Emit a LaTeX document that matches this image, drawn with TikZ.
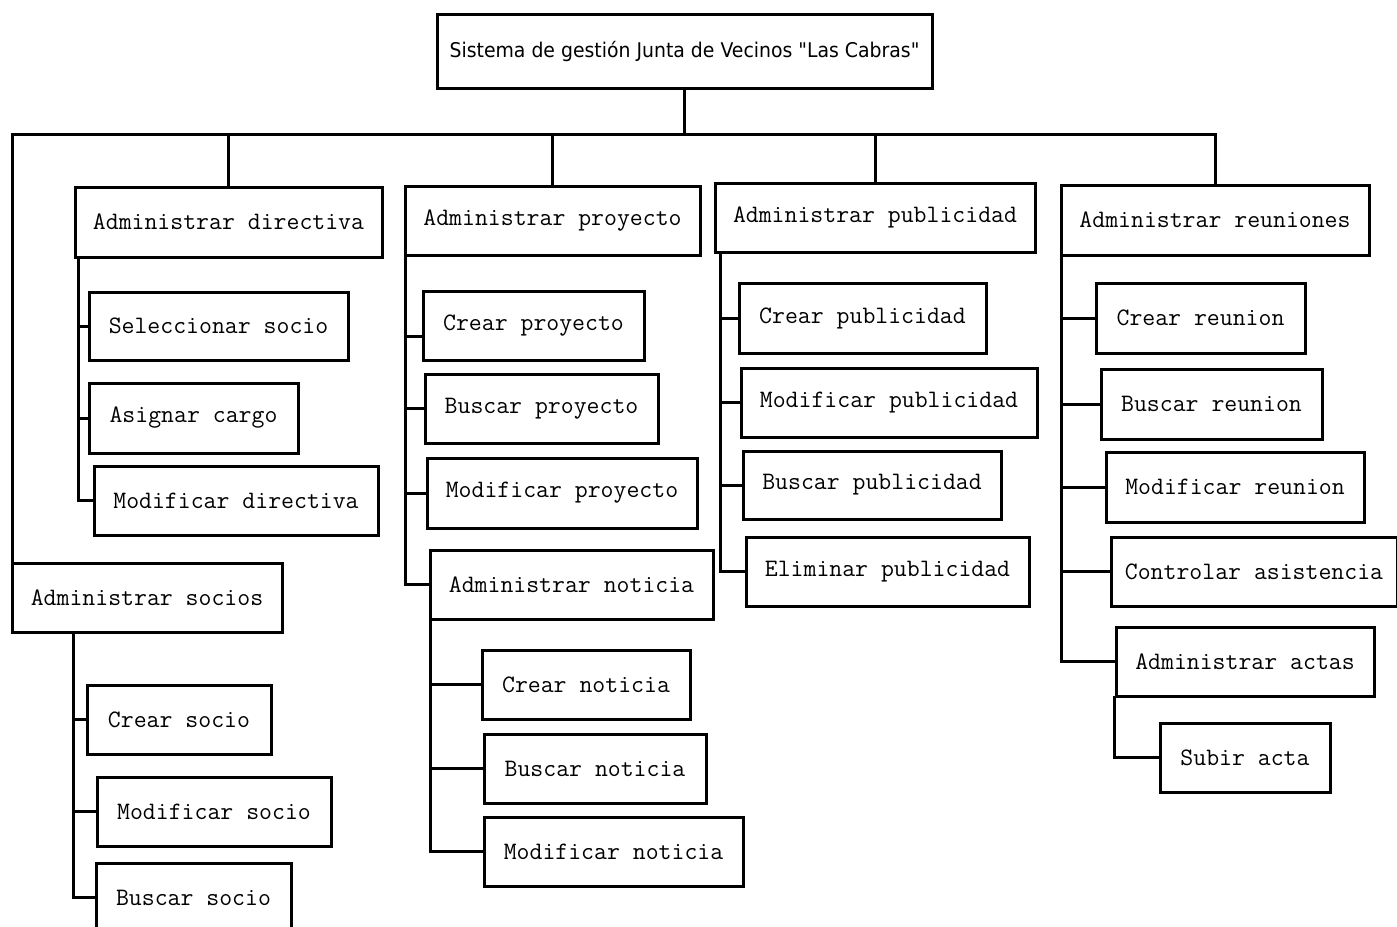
\documentclass[tikz,border=0pt]{standalone}
\usepackage{fontspec}
\usepackage{graphicx}
\newfontfamily\titlefont{DejaVu Sans}
% \tbox{name}{left}{top}{right}{bottom}{text}: a framed box given by its corners
\newcommand{\tbox}[6]{%
  \node[box, minimum width={(#4-#2)*0.75pt}, minimum height={(#5-#3)*0.75pt}]
    (#1) at ({(#2+#4)/2},{(#3+#5)/2}) {#6};}
\begin{document}
\begin{tikzpicture}[x=0.75pt,y=-0.75pt,
  box/.style={draw, line width=2.25pt, inner sep=0pt, outer sep=0pt,
    font=\ttfamily\fontsize{18.8}{20}\selectfont},
  link/.style={line width=2.25pt},
]
\fill[white] (0,0) rectangle (1397,926);
\useasboundingbox (0,0) rectangle (1397,926);

% root
\tbox{root}{437}{14}{932}{88}{\titlefont\fontsize{15.2}{17}\selectfont\scalebox{0.93}[1]{Sistema de gestión Junta de Vecinos "Las Cabras"}}

% first level
\tbox{dir}{75}{187}{382}{257}{Administrar directiva}
\tbox{pro}{405}{186}{700}{255}{Administrar proyecto}
\tbox{pub}{715}{183}{1035}{252}{Administrar publicidad}
\tbox{reu}{1061}{185}{1369}{255}{Administrar reuniones}
\tbox{soc}{12}{563}{282}{632}{Administrar socios}

% directiva
\tbox{ss}{89}{292}{348}{360}{Seleccionar socio}
\tbox{ac}{89}{383}{298}{453}{Asignar cargo}
\tbox{md}{94}{466}{378}{535}{Modificar directiva}

% socios
\tbox{cs}{87}{685}{271}{754}{Crear socio}
\tbox{ms}{97}{777}{331}{846}{Modificar socio}
\tbox{bs}{96}{863}{291}{932}{Buscar socio}

% proyecto
\tbox{cp}{423}{291}{644}{360}{Crear proyecto}
\tbox{bp}{425}{374}{658}{443}{Buscar proyecto}
\tbox{mp}{427}{458}{697}{528}{Modificar proyecto}
\tbox{an}{430}{550}{713}{619}{Administrar noticia}

% noticia
\tbox{cn}{482}{650}{690}{719}{Crear noticia}
\tbox{bn}{484}{734}{706}{803}{Buscar noticia}
\tbox{mn}{484}{817}{743}{886}{Modificar noticia}

% publicidad
\tbox{cpu}{739}{283}{986}{353}{Crear publicidad}
\tbox{mpu}{741}{368}{1037}{437}{Modificar publicidad}
\tbox{bpu}{743}{451}{1001}{519}{Buscar publicidad}
\tbox{epu}{746}{537}{1029}{606}{Eliminar publicidad}

% reuniones
\tbox{cr}{1096}{283}{1305}{353}{Crear reunion}
\tbox{br}{1101}{369}{1322}{439}{Buscar reunion}
\tbox{mr}{1106}{452}{1364}{522}{Modificar reunion}
\tbox{ca}{1111}{537}{1397}{606}{Controlar asistencia}
\tbox{aa}{1116}{627}{1374}{696}{Administrar actas}
\tbox{sa}{1160}{723}{1330}{792}{Subir acta}

% main bus
\coordinate (bus) at ([yshift=-34.5pt]root.south);
\draw[link] (root.south) -- (bus);
\draw[link] (soc.north west) |- (bus) -| (reu.north);
\draw[link] (dir.north) -- (dir.north |- bus);
\draw[link] (pro.north) -- (pro.north |- bus);
\draw[link] (pub.north) -- (pub.north |- bus);

% directiva branch
\coordinate (dsp) at ([xshift=2.25pt]dir.south west);
\draw[link] (dsp) |- (md.west);
\draw[link] (ss.west) -- (ss.west -| dsp);
\draw[link] (ac.west) -- (ac.west -| dsp);

% socios branch
\coordinate (ssp) at ([xshift=45.75pt]soc.south west);
\draw[link] (ssp) |- (bs.west);
\draw[link] (cs.west) -- (cs.west -| ssp);
\draw[link] (ms.west) -- (ms.west -| ssp);

% proyecto branch
\coordinate (psp) at (pro.south west);
\draw[link] (psp) |- (an.west);
\draw[link] ([yshift=-8.6pt]cp.west) -- ([yshift=-8.6pt]cp.west -| psp);
\draw[link] (bp.west) -- (bp.west -| psp);
\draw[link] (mp.west) -- (mp.west -| psp);

% noticia branch
\coordinate (nsp) at (an.south west);
\draw[link] (nsp) |- (mn.west);
\draw[link] (cn.west) -- (cn.west -| nsp);
\draw[link] (bn.west) -- (bn.west -| nsp);

% publicidad branch
\coordinate (usp) at ([xshift=3.75pt]pub.south west);
\draw[link] (usp) |- (epu.west);
\draw[link] (cpu.west) -- (cpu.west -| usp);
\draw[link] (mpu.west) -- (mpu.west -| usp);
\draw[link] (bpu.west) -- (bpu.west -| usp);

% reuniones branch
\coordinate (rsp) at (reu.south west);
\draw[link] (rsp) |- (aa.west);
\draw[link] (cr.west) -- (cr.west -| rsp);
\draw[link] (br.west) -- (br.west -| rsp);
\draw[link] (mr.west) -- (mr.west -| rsp);
\draw[link] (ca.west) -- (ca.west -| rsp);

% actas branch
\coordinate (asp) at ([xshift=-1.5pt]aa.south west);
\draw[link] (asp) |- (sa.west);
\end{tikzpicture}
\end{document}
